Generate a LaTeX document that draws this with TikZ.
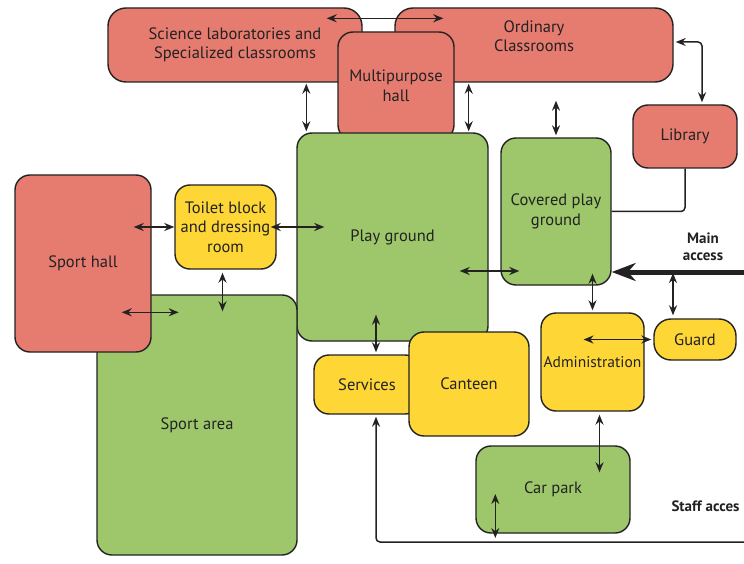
\documentclass[tikz,border=0pt]{standalone}
\usepackage{fontspec}
\setmainfont{PT Sans}
\definecolor{roomred}{HTML}{E67B70}
\definecolor{yardgreen}{HTML}{9DC76A}
\definecolor{servyellow}{HTML}{FED636}
\definecolor{edge}{HTML}{222222}
\usetikzlibrary{arrows.meta, calc}

\begin{document}
\begin{tikzpicture}[
    x=1pt, y=-1pt,
    zone/.style={rectangle, rounded corners=15pt, draw=edge, line width=1.4pt,
                 inner sep=1pt, align=center, text=edge,
                 font=\fontsize{16.5}{19.5}\selectfont},
    roomzone/.style={zone, fill=roomred},
    yardzone/.style={zone, fill=yardgreen},
    servzone/.style={zone, fill=servyellow},
    lbl/.style={align=center, text=edge, font=\fontsize{16.5}{19.5}\selectfont},
    accesstext/.style={align=center, text=edge, font=\bfseries\fontsize{15}{17.5}\selectfont},
    dbl/.style={{Stealth[length=10pt,width=8pt]}-{Stealth[length=10pt,width=8pt]},
                line width=1.5pt, edge},
    sgl/.style={-{Stealth[length=10pt,width=8pt]}, line width=1.5pt, edge},
    link/.style={line width=1.5pt, edge},
    mainarr/.style={-{Stealth[length=24pt,width=18pt]}, line width=5pt, edge}
  ]
  \useasboundingbox (0,0) rectangle (744,564);

  % buildings
  \node[roomzone, rounded corners=18pt, minimum width=254pt, minimum height=74pt]
    (sci) at (235,45) {Science laboratories and\\ Specialized classrooms};
  \node[roomzone, rounded corners=18pt, minimum width=278pt, minimum height=74pt,
        label={[lbl, yshift=9pt]center:{Ordinary\\ Classrooms}}]
    (ord) at (534,45) {};
  \node[roomzone, minimum width=116pt, minimum height=108pt] (mph) at (396,86) {Multipurpose\\ hall};

  % play areas
  \node[yardzone, minimum width=191pt, minimum height=208pt] (pg)  at (392.5,237) {Play ground};
  \node[yardzone, minimum width=110pt, minimum height=147pt] (cpg) at (556,211.5) {Covered play\\ ground};
  \node[roomzone, minimum width=104pt, minimum height=63pt]  (lib) at (685,136.5) {Library};
  \node[yardzone, minimum width=200pt, minimum height=260pt] (sa)  at (197,425) {Sport area};
  \node[roomzone, minimum width=136pt, minimum height=177pt] (sh)  at (83,263.5) {Sport hall};
  \node[servzone, minimum width=101pt, minimum height=84pt]  (tb)  at (225.5,227) {Toilet block\\ and dressing\\ room};

  % services
  \node[servzone, minimum width=106pt, minimum height=59pt]  (srv)   at (367,384.5) {Services};
  \node[servzone, minimum width=120pt, minimum height=104pt] (can)   at (469,384) {Canteen};
  \node[servzone, minimum width=103pt, minimum height=98pt, font=\fontsize{15.5}{19}\selectfont]
    (adm) at (592.5,362) {Administration};
  \node[servzone, minimum width=82pt, minimum height=41pt, rounded corners=17pt]
    (guard) at (695,339.5) {Guard};
  \node[yardzone, minimum width=154pt, minimum height=87pt]  (cp)    at (553,489.5) {Car park};

  % accesses
  \coordinate (mainin)  at (744,272);
  \coordinate (staffin) at (744,542);
  \node[accesstext] (maintxt) at (703,247) {Main\\ access};
  \node[accesstext, anchor=west] (stafftxt) at (668,506) {Staff acces};

  \draw[dbl] ($(sci.north east)+(-36,11)$) -- ($(ord.north west)+(49,11)$);
  \draw[dbl, shorten <=1pt, shorten >=1pt] ($(pg.north west)+(10,0)$) -- ($(sci.south -| pg.north west)+(10,0)$);
  \draw[dbl, shorten <=1pt, shorten >=1pt] ($(pg.north east)+(-20,0)$) -- ($(ord.south -| pg.north east)+(-20,0)$);
  \draw[dbl, shorten <=2pt] (cpg.north) -- ($(ord.south -| cpg.north)+(0,18)$);
  \draw[dbl, rounded corners=4pt] ($(ord.east)+(2,-3)$) -| ($(lib.north)+(17,-2)$);
  \draw[link, rounded corners=4pt] (lib.south) |- (cpg.east);

  % main access
  \draw[mainarr] (mainin) -- (mainin -| cpg.east);
  \draw[dbl] ($(pg.east)+(-29,34)$) -- ($(pg.east -| cpg.west)+(19,34)$);
  \draw[dbl, shorten >=2pt] ($(cpg.south -| adm.north)+(0,-12)$) -- (adm.north);
  \draw[dbl, shorten >=3pt] ($(mainin -| guard.north)+(-22,1)$) -- ($(guard.north)+(-22,0)$);
  \draw[dbl, shorten >=2pt] ($(adm.center |- guard.west)+(-9,0)$) -- (guard.west);
  \draw[dbl, shorten <=3pt] ($(adm.south)+(7,0)$) -- ($(adm.south |- cp.north)+(7,27)$);

  % staff access
  \draw[dbl, shorten >=4pt] ($(cp.west)+(20,4.5)$) -- ($(cp.west |- staffin)+(20,0)$);
  \draw[sgl, rounded corners=4pt, shorten >=2pt] (staffin) -| ($(srv.south)+(9,0)$);
  \draw[dbl, shorten <=2pt] ($(srv.north)+(9,0)$) -- ($(srv.north |- pg.south)+(9,-27)$);

  % sport side
  \draw[dbl] ($(tb.east)+(-6,0)$) -- ($(tb.east -| pg.west)+(28,0)$);
  \draw[dbl] (tb.west) -- ($(tb.west -| sh.east)+(-18,0)$);
  \draw[dbl, shorten <=3pt] ($(tb.south)+(-3,0)$) -- ($(tb.south |- sa.north)+(-3,17)$);
  \draw[dbl] ($(sh.east |- sa.north)+(-30,18)$) -- ($(sh.east |- sa.north)+(27,18)$);
\end{tikzpicture}
\end{document}
